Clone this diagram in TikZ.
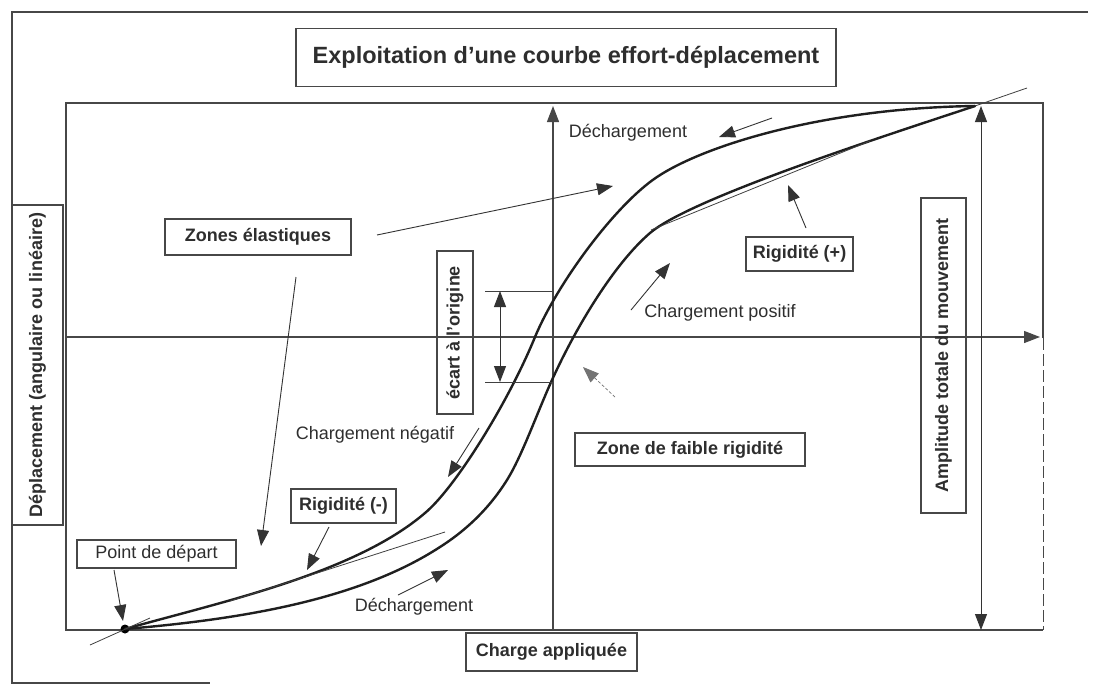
\documentclass[tikz,border=0pt]{standalone}
\usepackage{fontspec}
\setmainfont{Liberation Sans}
\usetikzlibrary{arrows.meta}
\tikzset{
  frame/.style={line width=1.3pt, draw=black!72},
  curvestyle/.style={line width=2.4pt, draw=black!88, line cap=round},
  tanline/.style={line width=0.8pt, draw=black!75},
  arr/.style={line width=0.9pt, draw=black!80, -{Triangle[length=16pt,width=12pt]}},
  dblarr/.style={line width=1pt, draw=black!80, {Triangle[length=16pt,width=12pt]}-{Triangle[length=16pt,width=12pt]}},
  txt/.style={font=\fontsize{18}{20}\selectfont, text=black!82, inner sep=0pt},
  bx/.style={draw=black!72, line width=1.1pt, font=\fontsize{18}{20}\selectfont\bfseries, text=black!82, inner sep=0pt},
}
\begin{document}
\begin{tikzpicture}[x=1pt,y=-1pt]
\useasboundingbox (0,0) rectangle (1112,686);
\fill[white] (0,0) rectangle (1112,686);

% outer frame
\draw[frame] (1088,12) -- (12,12) -- (12,683) -- (210,683);

% inner plot frame
\draw[frame] (1043,338) -- (1043,103) -- (66,103) -- (66,630) -- (1043,630);
\draw[frame, line width=0.8pt, dash pattern=on 12pt off 4pt] (1043,338) -- (1043,630);

% title
\node[bx, minimum width=540pt, minimum height=58pt, font=\fontsize{23.5}{26}\selectfont\bfseries] (title) at (566,57.5) {Exploitation d'une courbe effort-déplacement};

% axis label boxes
\node[bx, rotate=90, minimum width=320pt, minimum height=51pt] (ylab) at (37.5,365) {Déplacement (angulaire ou linéaire)};
\node[bx, minimum width=171pt, minimum height=38pt] (xlab) at (551.5,652) {Charge appliquée};

% axes
\coordinate (xa0) at (66,337);
\coordinate (xa1) at (1040,337);
\coordinate (ya0) at (553,630);
\coordinate (ya1) at (553,106);
\draw[frame, -{Triangle[length=16pt,width=12pt]}] (xa0) -- (xa1);
\draw[frame, -{Triangle[length=16pt,width=12pt]}] (ya0) -- (ya1);

% curves
\node[circle, fill=black, inner sep=0pt, minimum size=9pt] (start) at (125,629) {};
\coordinate (peak) at (975,106);
\draw[curvestyle] (start.center)
  .. controls (225,601) and (355,573) .. (425,513)
  .. controls (455,488) and (508,403) .. (535,337)
  .. controls (557,284) and (615,205) .. (657,177)
  .. controls (705,145) and (825,108) .. (peak);
\draw[curvestyle] (start.center)
  .. controls (245,619) and (360,599) .. (440,547)
  .. controls (462,533) and (487,512) .. (507,480)
  .. controls (522,456) and (537,413) .. (552,380)
  .. controls (577,325) and (615,263) .. (650,233)
  .. controls (690,199) and (875,139) .. (peak);

% tangent lines
\coordinate (t1a) at (90,645);
\coordinate (t1b) at (150,618);
\draw[tanline] (t1a) -- (t1b);
\coordinate (t2a) at (230,601);
\coordinate (t2b) at (445,532);
\draw[tanline] (t2a) -- (t2b);
\coordinate (t3a) at (651,230);
\coordinate (t3b) at (870,141);
\draw[tanline] (t3a) -- (t3b);
\coordinate (t4b) at (1027,88);
\draw[tanline] (peak) -- (t4b);

% ecart a l'origine
\node[bx, rotate=90, minimum width=163pt, minimum height=36pt] (ecart) at (455,332.5) {écart à l'origine};
\coordinate (e1a) at (485,291);
\coordinate (e1b) at (553,291);
\coordinate (e2a) at (485,382);
\coordinate (e2b) at (553,382);
\draw[tanline] (e1a) -- (e1b);
\draw[tanline] (e2a) -- (e2b);
\coordinate (ea) at (500,291);
\coordinate (eb) at (500,382);
\draw[dblarr] (eb) -- (ea);

% amplitude
\node[bx, rotate=90, minimum width=315pt, minimum height=45pt] (ampl) at (943.5,355.5) {Amplitude totale du mouvement};
\coordinate (am0) at (981,630);
\coordinate (am1) at (981,106);
\draw[dblarr] (am0) -- (am1);

% labels and arrows
\node[txt] (dech1) at (628,133) {Déchargement};
\coordinate (d1a) at (772,118);
\coordinate (d1b) at (719,137);
\draw[arr] (d1a) -- (d1b);

\node[bx, minimum width=186pt, minimum height=36pt] (zones) at (258,237) {Zones élastiques};
\coordinate (z1a) at (377,235);
\coordinate (z1b) at (613,186);
\draw[arr] (z1a) -- (z1b);
\coordinate (z2a) at (296,277);
\coordinate (z2b) at (261,546);
\draw[arr] (z2a) -- (z2b);

\node[bx, minimum width=107pt, minimum height=34pt] (rigp) at (799.5,254) {Rigidité (+)};
\coordinate (rpa) at (806,228);
\coordinate (rpb) at (788,185);
\draw[arr] (rpa) -- (rpb);

\node[txt] (chpos) at (720,313) {Chargement positif};
\coordinate (cpa) at (631,310);
\coordinate (cpb) at (670,263);
\draw[arr] (cpa) -- (cpb);

\coordinate (fa) at (615,397);
\coordinate (fb) at (583,367);
\draw[arr, line width=0.7pt, draw=black!55, dash pattern=on 3pt off 2pt] (fa) -- (fb);

\node[bx, minimum width=230pt, minimum height=33pt] (zfr) at (690,449.5) {Zone de faible rigidité};

\node[txt] (chneg) at (375,435) {Chargement négatif};
\coordinate (cna) at (479,428);
\coordinate (cnb) at (448,477);
\draw[arr] (cna) -- (cnb);

\node[bx, minimum width=105pt, minimum height=34pt] (rign) at (343.5,506) {Rigidité (-)};
\coordinate (rna) at (329,527);
\coordinate (rnb) at (307,570);
\draw[arr] (rna) -- (rnb);

\node[bx, font=\fontsize{18}{20}\selectfont, minimum width=159pt, minimum height=28pt] (pdep) at (156.5,554) {Point de départ};
\coordinate (pda) at (114,570);
\coordinate (pdb) at (123,621);
\draw[arr] (pda) -- (pdb);

\node[txt] (dech2) at (414,607) {Déchargement};
\coordinate (d2a) at (398,595);
\coordinate (d2b) at (448,570);
\draw[arr] (d2a) -- (d2b);
\end{tikzpicture}
\end{document}
